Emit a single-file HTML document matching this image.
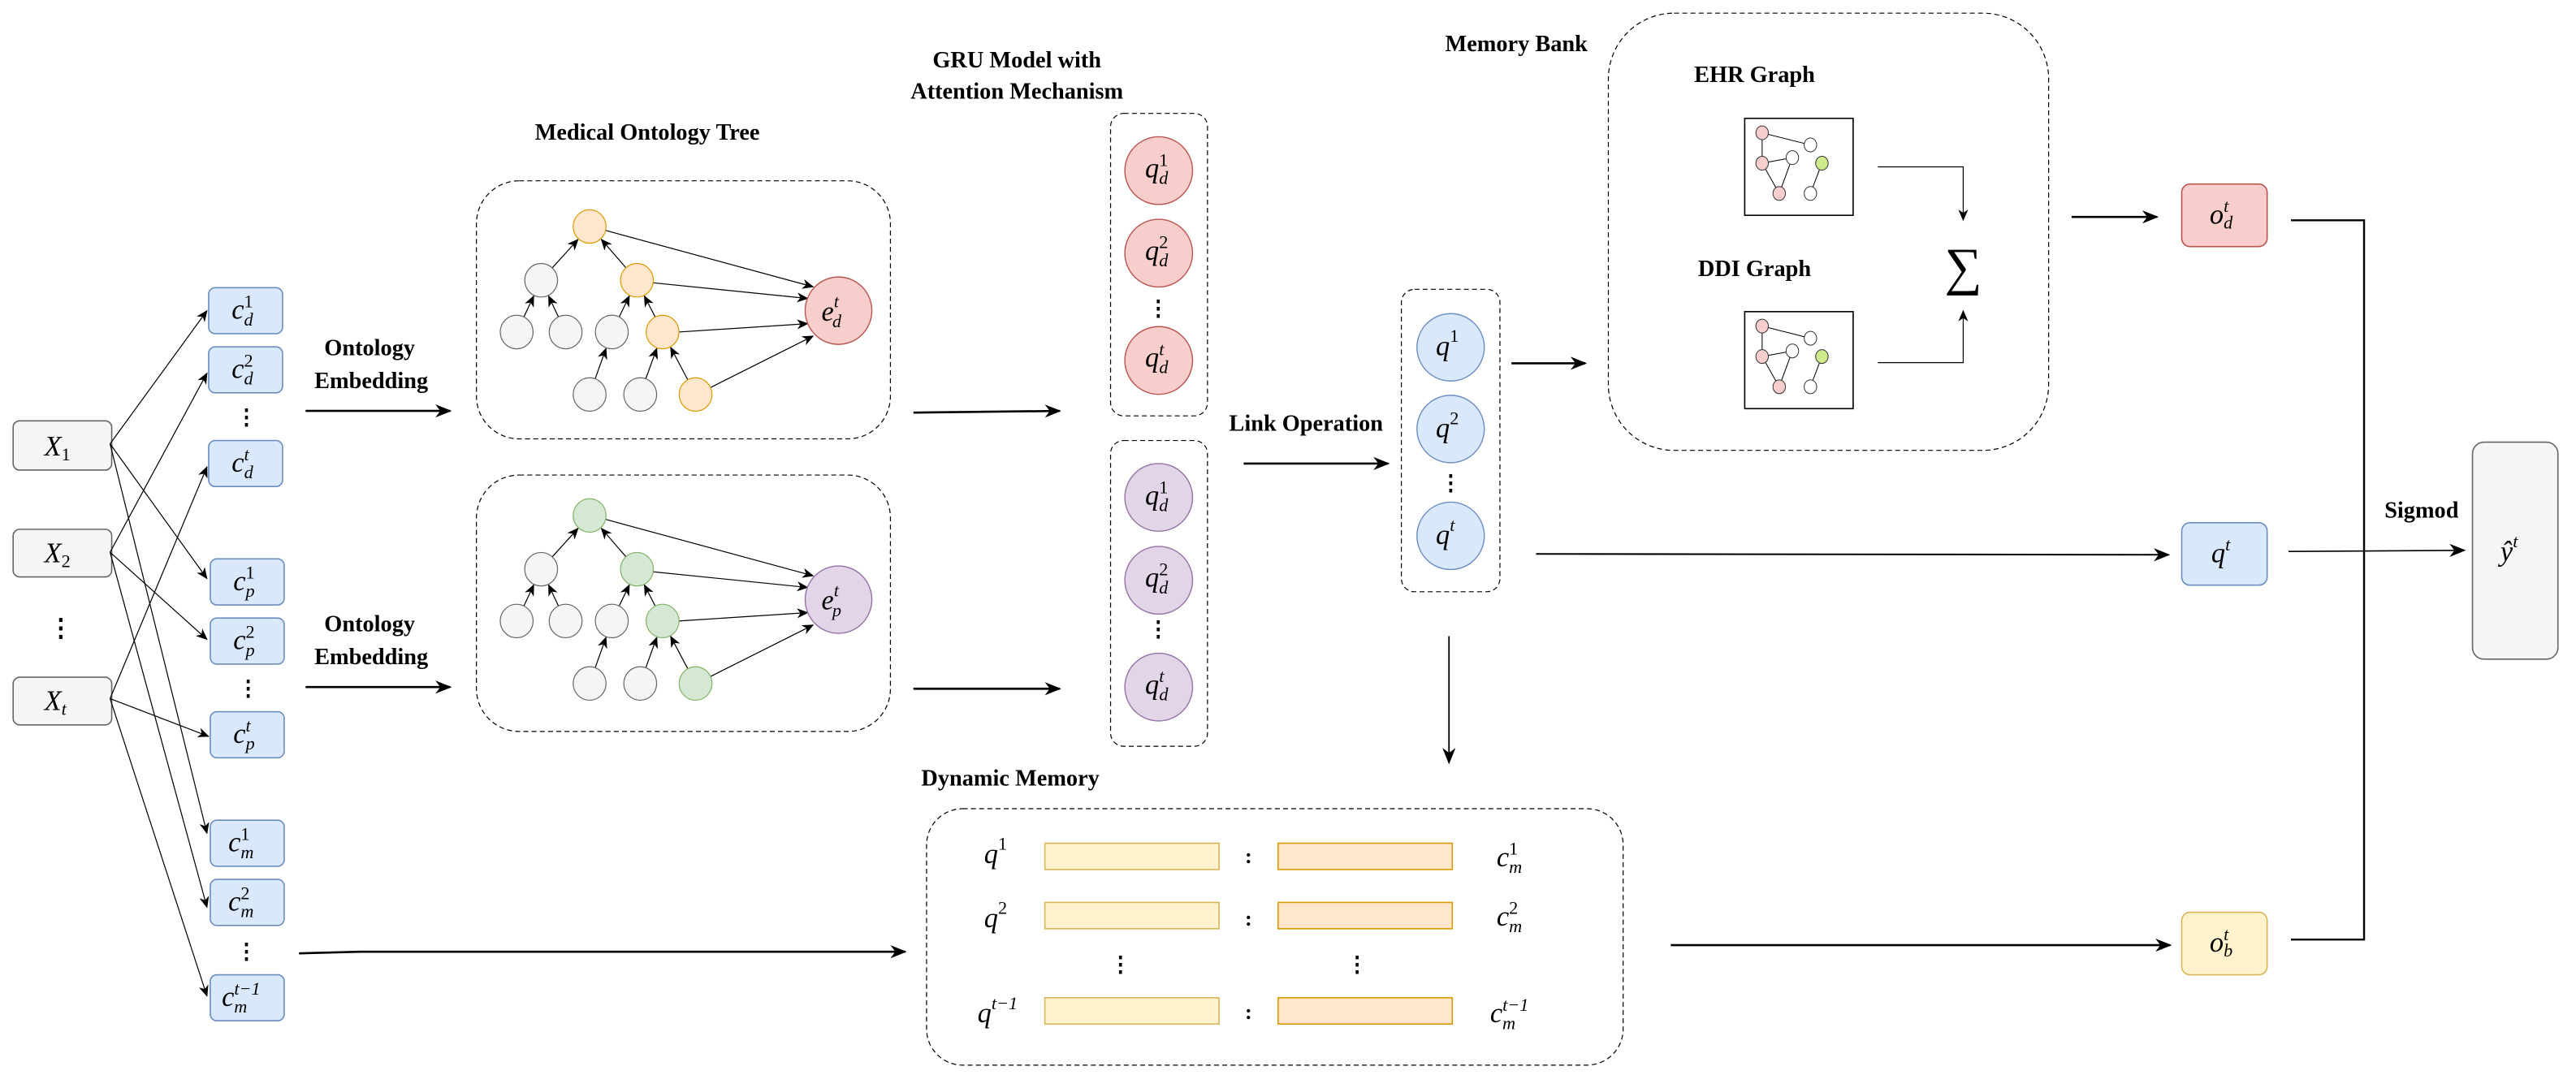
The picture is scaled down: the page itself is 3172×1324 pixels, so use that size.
<!DOCTYPE html>
<html><head><meta charset="utf-8"><style>
html,body{margin:0;padding:0;background:#fff;}
svg{display:block;font-family:"Liberation Serif","DejaVu Serif",serif;}
svg text{font-family:"Liberation Serif","DejaVu Serif",serif;fill:#000;}
.m{font-style:italic;font-size:17px;}
.s{font-size:11px;}
.b{font-weight:bold;font-size:14px;}
</style></head><body>
<svg width="3172" height="1324" viewBox="0 0 1568 654" preserveAspectRatio="none" xmlns="http://www.w3.org/2000/svg" font-family="Liberation Serif, DejaVu Serif, serif">
<defs>
<marker id="a" markerUnits="userSpaceOnUse" markerWidth="10" markerHeight="8" refX="9" refY="4" orient="auto"><path d="M0,0 L10,4 L0,8 L3,4 z" fill="#000"/></marker>
<marker id="t" markerUnits="userSpaceOnUse" markerWidth="7" markerHeight="6" refX="6.5" refY="3" orient="auto"><path d="M0,0 L7,3 L0,6 L2,3 z" fill="#000"/></marker>
</defs>

<g fill="#f5f5f5" stroke="#666" stroke-width="0.8">
<rect x="8" y="256" width="60" height="30" rx="4"/>
<rect x="8" y="322" width="60" height="29" rx="4"/>
<rect x="8" y="412" width="60" height="29" rx="4"/>
</g>
<text class="m" x="27" y="277" font-size="18">X<tspan class="s" font-style="normal" dy="3">1</tspan></text>
<text class="m" x="27" y="342" font-size="18">X<tspan class="s" font-style="normal" dy="3">2</tspan></text>
<text class="m" x="27" y="432" font-size="18">X<tspan class="s" dy="3">t</tspan></text>
<text x="37" y="387" font-size="15" font-weight="bold" text-anchor="middle">⋮</text>

<g stroke="#000" stroke-width="0.6" fill="none" marker-end="url(#t)">
<line x1="67" y1="270" x2="126" y2="189"/>
<line x1="67" y1="270" x2="126" y2="352"/>
<line x1="67" y1="270" x2="126" y2="507"/>
<line x1="67" y1="336" x2="126" y2="227"/>
<line x1="67" y1="336" x2="126" y2="389"/>
<line x1="67" y1="336" x2="126" y2="552"/>
<line x1="67" y1="425" x2="126" y2="284"/>
<line x1="67" y1="425" x2="127" y2="448"/>
<line x1="67" y1="425" x2="126" y2="606"/>
</g>

<g fill="#dae8fc" stroke="#6c8ebf" stroke-width="0.8">
<rect x="127" y="175" width="45" height="28" rx="4"/>
<rect x="127" y="211" width="45" height="28" rx="4"/>
<rect x="127" y="268" width="45" height="28" rx="4"/>
<rect x="128" y="340" width="45" height="28" rx="4"/>
<rect x="128" y="376" width="45" height="28" rx="4"/>
<rect x="128" y="433" width="45" height="28" rx="4"/>
<rect x="128" y="499" width="45" height="28" rx="4"/>
<rect x="128" y="535" width="45" height="28" rx="4"/>
<rect x="128" y="593" width="45" height="28" rx="4"/>
</g>
<text class="m" x="141" y="194">c<tspan class="s" font-style="normal" dy="-7">1</tspan><tspan class="s" dx="-5.5" dy="11">d</tspan></text>
<text class="m" x="141" y="230">c<tspan class="s" font-style="normal" dy="-7">2</tspan><tspan class="s" dx="-5.5" dy="11">d</tspan></text>
<text class="m" x="141" y="287">c<tspan class="s" dy="-7">t</tspan><tspan class="s" dx="-3" dy="11">d</tspan></text>
<text class="m" x="142" y="359">c<tspan class="s" font-style="normal" dy="-7">1</tspan><tspan class="s" dx="-5.5" dy="11">p</tspan></text>
<text class="m" x="142" y="395">c<tspan class="s" font-style="normal" dy="-7">2</tspan><tspan class="s" dx="-5.5" dy="11">p</tspan></text>
<text class="m" x="142" y="452">c<tspan class="s" dy="-7">t</tspan><tspan class="s" dx="-3" dy="11">p</tspan></text>
<text class="m" x="139" y="518">c<tspan class="s" font-style="normal" dy="-7">1</tspan><tspan class="s" dx="-5.5" dy="11">m</tspan></text>
<text class="m" x="139" y="554">c<tspan class="s" font-style="normal" dy="-7">2</tspan><tspan class="s" dx="-5.5" dy="11">m</tspan></text>
<text class="m" x="135" y="612">c<tspan class="s" dy="-7">t−1</tspan><tspan class="s" dx="-16" dy="11">m</tspan></text>
<g font-size="13" font-weight="bold" text-anchor="middle">
<text x="150" y="258">⋮</text><text x="151" y="423">⋮</text><text x="150" y="583">⋮</text>
</g>

<text class="b" x="225" y="216" text-anchor="middle" font-size="15">Ontology</text>
<text class="b" x="226" y="236" text-anchor="middle" font-size="15">Embedding</text>
<text class="b" x="225" y="384" text-anchor="middle" font-size="15">Ontology</text>
<text class="b" x="226" y="404" text-anchor="middle" font-size="15">Embedding</text>
<g stroke="#000" stroke-width="1.3" marker-end="url(#a)">
<line x1="186" y1="250" x2="274" y2="250"/>
<line x1="186" y1="418" x2="274" y2="418"/>
<line x1="556" y1="251" x2="645" y2="250"/>
<line x1="556" y1="419" x2="645" y2="419"/>
<line x1="757" y1="282" x2="845" y2="282"/>
<line x1="920" y1="221" x2="965" y2="221"/>
<line x1="1261" y1="132" x2="1313" y2="132"/>
<line x1="1017" y1="575" x2="1321" y2="575"/>
<line x1="219" y1="579" x2="551" y2="579"/>
</g>
<line x1="182" y1="580" x2="219" y2="579" stroke="#000" stroke-width="1.3"/>
<line x1="935" y1="337" x2="1320" y2="337.5" stroke="#000" stroke-width="1" marker-end="url(#a)"/>
<line x1="882" y1="387" x2="882" y2="464" stroke="#000" stroke-width="0.9" marker-end="url(#a)"/>

<text class="b" x="394" y="85" text-anchor="middle">Medical Ontology Tree</text>
<g fill="none" stroke="#000" stroke-width="0.6" stroke-dasharray="3 2">
<rect x="290" y="110" width="252" height="157" rx="26"/>
<rect x="290" y="289" width="252" height="156" rx="26"/>
<rect x="676" y="69" width="59" height="184" rx="8"/>
<rect x="676" y="268" width="59" height="186" rx="8"/>
<rect x="853" y="176" width="60" height="184" rx="8"/>
<rect x="979" y="8" width="268" height="266" rx="40"/>
<rect x="564" y="492" width="424" height="156" rx="22"/>
</g>

<g>
<g stroke="#000" stroke-width="0.6" marker-end="url(#t)">
<line x1="318.9" y1="192.8" x2="324.9" y2="180"/>
<line x1="339.9" y1="192.8" x2="333.9" y2="180"/>
<line x1="376.9" y1="192.8" x2="383.1" y2="180"/>
<line x1="398.8" y1="192.8" x2="392.2" y2="180"/>
<line x1="362.3" y1="230.4" x2="368.9" y2="211.9"/>
<line x1="393.1" y1="230.4" x2="399.8" y2="211.9"/>
<line x1="418.6" y1="231" x2="408.2" y2="211.3"/>
<line x1="336.2" y1="162.9" x2="351.9" y2="145.6"/>
<line x1="381" y1="162.9" x2="366" y2="145.6"/>
<line x1="368" y1="140" x2="495" y2="174.5"/>
<line x1="397" y1="172" x2="491.7" y2="181.6"/>
<line x1="413" y1="202" x2="491.7" y2="196.9"/>
<line x1="432" y1="236" x2="495" y2="204.4"/>
</g>
<g fill="#f5f5f5" stroke="#666" stroke-width="0.6">
<ellipse cx="329.4" cy="170.5" rx="10" ry="10.2"/>
<ellipse cx="314.5" cy="202" rx="10" ry="10.2"/>
<ellipse cx="344.3" cy="202" rx="10" ry="10.2"/>
<ellipse cx="372.4" cy="202" rx="10" ry="10.2"/>
<ellipse cx="358.9" cy="240" rx="10" ry="10.2"/>
<ellipse cx="389.7" cy="240" rx="10" ry="10.2"/>
</g>
<g fill="#ffe6cc" stroke="#d79b00" stroke-width="0.6">
<ellipse cx="358.9" cy="137.8" rx="10" ry="10.2"/>
<ellipse cx="387.7" cy="170.5" rx="10" ry="10.2"/>
<ellipse cx="403.3" cy="202" rx="10" ry="10.2"/>
<ellipse cx="423.4" cy="240" rx="10" ry="10.2"/>
</g>
<ellipse cx="510.4" cy="189" rx="20.3" ry="20.5" fill="#f8cecc" stroke="#b85450" stroke-width="0.7"/>
<text class="m" x="500" y="195" font-size="19">e<tspan class="s" font-size="12" dy="-8">t</tspan><tspan class="s" font-size="12" dx="-4" dy="12">d</tspan></text>
</g>

<g transform="translate(0,175.8)">
<g stroke="#000" stroke-width="0.6" marker-end="url(#t)">
<line x1="318.9" y1="192.8" x2="324.9" y2="180"/>
<line x1="339.9" y1="192.8" x2="333.9" y2="180"/>
<line x1="376.9" y1="192.8" x2="383.1" y2="180"/>
<line x1="398.8" y1="192.8" x2="392.2" y2="180"/>
<line x1="362.3" y1="230.4" x2="368.9" y2="211.9"/>
<line x1="393.1" y1="230.4" x2="399.8" y2="211.9"/>
<line x1="418.6" y1="231" x2="408.2" y2="211.3"/>
<line x1="336.2" y1="162.9" x2="351.9" y2="145.6"/>
<line x1="381" y1="162.9" x2="366" y2="145.6"/>
<line x1="368" y1="140" x2="495" y2="174.5"/>
<line x1="397" y1="172" x2="491.7" y2="181.6"/>
<line x1="413" y1="202" x2="491.7" y2="196.9"/>
<line x1="432" y1="236" x2="495" y2="204.4"/>
</g>
<g fill="#f5f5f5" stroke="#666" stroke-width="0.6">
<ellipse cx="329.4" cy="170.5" rx="10" ry="10.2"/>
<ellipse cx="314.5" cy="202" rx="10" ry="10.2"/>
<ellipse cx="344.3" cy="202" rx="10" ry="10.2"/>
<ellipse cx="372.4" cy="202" rx="10" ry="10.2"/>
<ellipse cx="358.9" cy="240" rx="10" ry="10.2"/>
<ellipse cx="389.7" cy="240" rx="10" ry="10.2"/>
</g>
<g fill="#d5e8d4" stroke="#82b366" stroke-width="0.6">
<ellipse cx="358.9" cy="137.8" rx="10" ry="10.2"/>
<ellipse cx="387.7" cy="170.5" rx="10" ry="10.2"/>
<ellipse cx="403.3" cy="202" rx="10" ry="10.2"/>
<ellipse cx="423.4" cy="240" rx="10" ry="10.2"/>
</g>
<ellipse cx="510.4" cy="189" rx="20.3" ry="20.5" fill="#e1d5e7" stroke="#9673a6" stroke-width="0.7"/>
<text class="m" x="500" y="195" font-size="19">e<tspan class="s" font-size="12" dy="-8">t</tspan><tspan class="s" font-size="12" dx="-4" dy="12">p</tspan></text>
</g>

<text class="b" x="619" y="41" text-anchor="middle">GRU Model with</text>
<text class="b" x="619" y="60" text-anchor="middle">Attention Mechanism</text>
<g fill="#f8cecc" stroke="#b85450" stroke-width="0.7">
<circle cx="705.3" cy="103.8" r="20.6"/><circle cx="705.3" cy="154" r="20.6"/><circle cx="705.3" cy="219.3" r="20.6"/>
</g>
<g fill="#e1d5e7" stroke="#9673a6" stroke-width="0.7">
<circle cx="705.3" cy="302.6" r="20.6"/><circle cx="705.3" cy="353" r="20.6"/><circle cx="705.3" cy="418" r="20.6"/>
</g>
<text class="m" x="697" y="108">q<tspan class="s" font-style="normal" dy="-7">1</tspan><tspan class="s" dx="-5.5" dy="11">d</tspan></text>
<text class="m" x="697" y="158">q<tspan class="s" font-style="normal" dy="-7">2</tspan><tspan class="s" dx="-5.5" dy="11">d</tspan></text>
<text class="m" x="697" y="223">q<tspan class="s" dy="-7">t</tspan><tspan class="s" dx="-3" dy="11">d</tspan></text>
<text class="m" x="697" y="307">q<tspan class="s" font-style="normal" dy="-7">1</tspan><tspan class="s" dx="-5.5" dy="11">d</tspan></text>
<text class="m" x="697" y="357">q<tspan class="s" font-style="normal" dy="-7">2</tspan><tspan class="s" dx="-5.5" dy="11">d</tspan></text>
<text class="m" x="697" y="422">q<tspan class="s" dy="-7">t</tspan><tspan class="s" dx="-3" dy="11">d</tspan></text>
<g font-size="13" font-weight="bold" text-anchor="middle">
<text x="705" y="192">⋮</text><text x="705" y="387">⋮</text><text x="883" y="298">⋮</text>
</g>

<text class="b" x="795" y="262" text-anchor="middle">Link Operation</text>
<g fill="#dae8fc" stroke="#6c8ebf" stroke-width="0.7">
<circle cx="883" cy="211.3" r="20.5"/><circle cx="883" cy="261" r="20.5"/><circle cx="883" cy="326" r="20.5"/>
</g>
<text class="m" x="874" y="216">q<tspan class="s" font-style="normal" dy="-8">1</tspan></text>
<text class="m" x="874" y="266">q<tspan class="s" font-style="normal" dy="-8">2</tspan></text>
<text class="m" x="874" y="331">q<tspan class="s" dy="-8">t</tspan></text>

<text class="b" x="923" y="31" text-anchor="middle">Memory Bank</text>
<text class="b" x="1068" y="50" text-anchor="middle">EHR Graph</text>
<text class="b" x="1068" y="168" text-anchor="middle">DDI Graph</text>
<g>
<rect x="1062" y="72" width="66" height="59" fill="#fff" stroke="#000" stroke-width="0.8"/>
<g stroke="#000" stroke-width="0.5">
<line x1="1072.6" y1="80.8" x2="1102" y2="88.2"/>
<line x1="1072.6" y1="80.8" x2="1072.6" y2="99.3"/>
<line x1="1072.6" y1="99.3" x2="1091" y2="95.9"/>
<line x1="1091" y1="95.9" x2="1083" y2="117.7"/>
<line x1="1072.6" y1="99.3" x2="1083" y2="117.7"/>
<line x1="1109" y1="99.3" x2="1102" y2="117.7"/>
</g>
<g stroke="#333" stroke-width="0.5">
<ellipse cx="1072.6" cy="80.8" rx="3.8" ry="4.2" fill="#f8cecc"/>
<ellipse cx="1072.6" cy="99.3" rx="3.8" ry="4.2" fill="#f8cecc"/>
<ellipse cx="1083" cy="117.7" rx="3.8" ry="4.2" fill="#f8cecc"/>
<ellipse cx="1102" cy="88.2" rx="3.8" ry="4.2" fill="#fff"/>
<ellipse cx="1091" cy="95.9" rx="3.8" ry="4.2" fill="#fff"/>
<ellipse cx="1102" cy="117.7" rx="3.8" ry="4.2" fill="#fff"/>
<ellipse cx="1109" cy="99.3" rx="3.8" ry="4.2" fill="#cdeb8b"/>
</g>
</g>
<g transform="translate(0,117.6)">
<rect x="1062" y="72" width="66" height="59" fill="#fff" stroke="#000" stroke-width="0.8"/>
<g stroke="#000" stroke-width="0.5">
<line x1="1072.6" y1="80.8" x2="1102" y2="88.2"/>
<line x1="1072.6" y1="80.8" x2="1072.6" y2="99.3"/>
<line x1="1072.6" y1="99.3" x2="1091" y2="95.9"/>
<line x1="1091" y1="95.9" x2="1083" y2="117.7"/>
<line x1="1072.6" y1="99.3" x2="1083" y2="117.7"/>
<line x1="1109" y1="99.3" x2="1102" y2="117.7"/>
</g>
<g stroke="#333" stroke-width="0.5">
<ellipse cx="1072.6" cy="80.8" rx="3.8" ry="4.2" fill="#f8cecc"/>
<ellipse cx="1072.6" cy="99.3" rx="3.8" ry="4.2" fill="#f8cecc"/>
<ellipse cx="1083" cy="117.7" rx="3.8" ry="4.2" fill="#f8cecc"/>
<ellipse cx="1102" cy="88.2" rx="3.8" ry="4.2" fill="#fff"/>
<ellipse cx="1091" cy="95.9" rx="3.8" ry="4.2" fill="#fff"/>
<ellipse cx="1102" cy="117.7" rx="3.8" ry="4.2" fill="#fff"/>
<ellipse cx="1109" cy="99.3" rx="3.8" ry="4.2" fill="#cdeb8b"/>
</g>
</g>
<text x="1195" y="173" font-size="32" text-anchor="middle">∑</text>
<g fill="none" stroke="#000" stroke-width="0.6" marker-end="url(#t)">
<polyline points="1143,101.5 1195,101.5 1195,134"/>
<polyline points="1143,220.6 1195,220.6 1195,189"/>
</g>

<text class="b" x="615" y="478" text-anchor="middle">Dynamic Memory</text>
<g stroke-width="0.8">
<rect x="636" y="513" width="106" height="16" fill="#fff2cc" stroke="#d6b656"/>
<rect x="636" y="549" width="106" height="16" fill="#fff2cc" stroke="#d6b656"/>
<rect x="636" y="607" width="106" height="16" fill="#fff2cc" stroke="#d6b656"/>
<rect x="778" y="513" width="106" height="16" fill="#ffe6cc" stroke="#d79b00"/>
<rect x="778" y="549" width="106" height="16" fill="#ffe6cc" stroke="#d79b00"/>
<rect x="778" y="607" width="106" height="16" fill="#ffe6cc" stroke="#d79b00"/>
</g>
<g font-size="13" font-weight="bold" text-anchor="middle">
<text x="760" y="525">:</text><text x="760" y="563">:</text><text x="760" y="620">:</text>
<text x="682" y="591">⋮</text><text x="826" y="591">⋮</text>
</g>
<text class="m" x="599" y="525">q<tspan class="s" font-style="normal" dy="-8">1</tspan></text>
<text class="m" x="599" y="564">q<tspan class="s" font-style="normal" dy="-8">2</tspan></text>
<text class="m" x="595" y="622">q<tspan class="s" dy="-8">t−1</tspan></text>
<text class="m" x="911" y="527">c<tspan class="s" font-style="normal" dy="-7">1</tspan><tspan class="s" dx="-5.5" dy="11">m</tspan></text>
<text class="m" x="911" y="563">c<tspan class="s" font-style="normal" dy="-7">2</tspan><tspan class="s" dx="-5.5" dy="11">m</tspan></text>
<text class="m" x="907" y="622">c<tspan class="s" dy="-7">t−1</tspan><tspan class="s" dx="-16" dy="11">m</tspan></text>

<rect x="1328" y="112" width="52" height="38" rx="5" fill="#f8cecc" stroke="#b85450" stroke-width="0.8"/>
<rect x="1328" y="318" width="52" height="38" rx="5" fill="#dae8fc" stroke="#6c8ebf" stroke-width="0.8"/>
<rect x="1328" y="555" width="52" height="38" rx="5" fill="#fff2cc" stroke="#d6b656" stroke-width="0.8"/>
<rect x="1505" y="269" width="52" height="132" rx="7" fill="#f5f5f5" stroke="#666" stroke-width="0.8"/>
<text class="m" x="1345" y="136">o<tspan class="s" dy="-7">t</tspan><tspan class="s" dx="-3" dy="10">d</tspan></text>
<text class="m" x="1346" y="342">q<tspan class="s" dy="-7">t</tspan></text>
<text class="m" x="1345" y="579">o<tspan class="s" dy="-7">t</tspan><tspan class="s" dx="-3" dy="10">b</tspan></text>
<text class="m" x="1522" y="341" font-size="18">ŷ<tspan class="s" dy="-8">t</tspan></text>
<polyline points="1394.5,134 1439,134 1439,571.6 1394.5,571.6" fill="none" stroke="#000" stroke-width="1.2"/>
<line x1="1393" y1="335.5" x2="1500" y2="334.8" stroke="#000" stroke-width="0.8" marker-end="url(#a)"/>
<text class="b" x="1474" y="315" text-anchor="middle" font-size="13">Sigmod</text>
</svg>
</body></html>
